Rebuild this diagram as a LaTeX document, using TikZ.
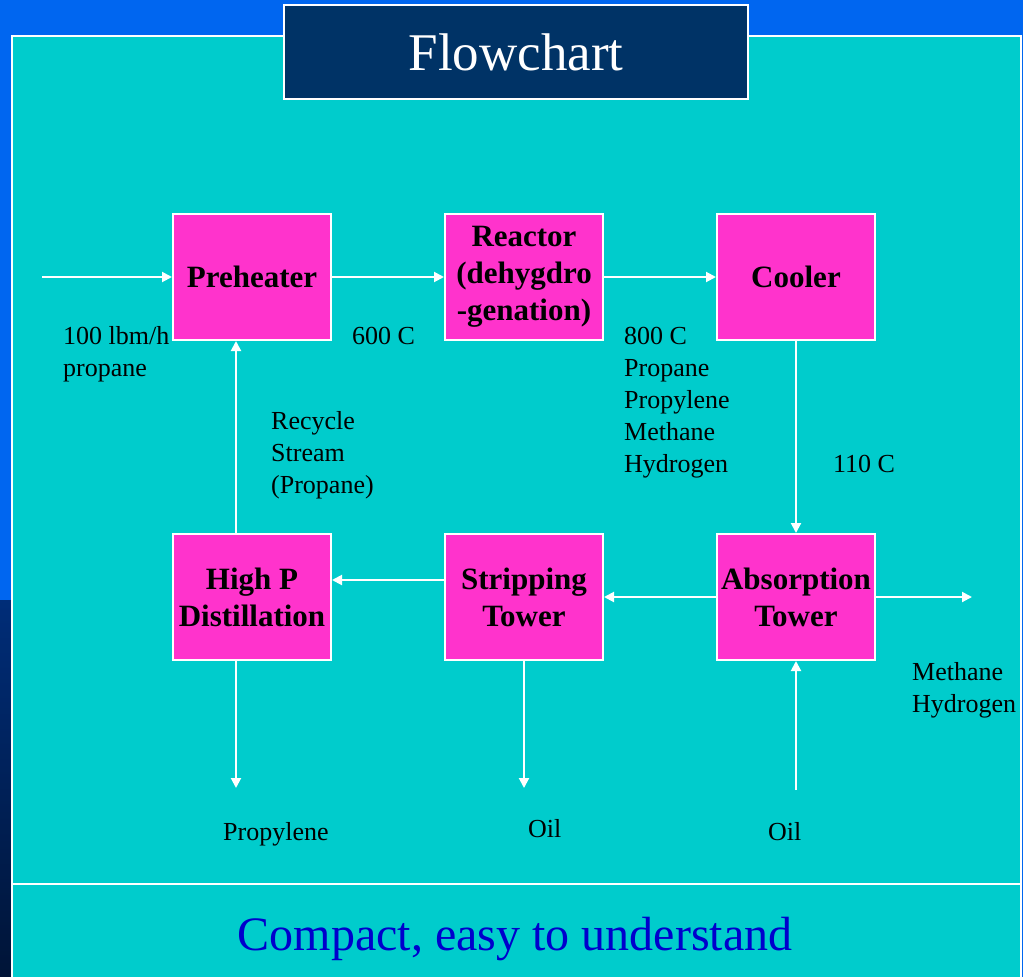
\documentclass[tikz,border=0pt]{standalone}
\usepackage{fontspec}
\setmainfont{Liberation Serif}
\usetikzlibrary{arrows.meta}

\definecolor{slideblue}{RGB}{0,102,240}
\definecolor{panelcyan}{RGB}{0,204,204}
\definecolor{titlenavy}{RGB}{0,51,102}
\definecolor{unitpink}{RGB}{255,51,204}
\definecolor{footblue}{RGB}{0,0,204}

\begin{document}
\begin{tikzpicture}[x=1pt, y=-1pt,
    unit/.style={draw=white, line width=2pt, fill=unitpink, minimum width=158pt, minimum height=126pt,
        align=center, inner sep=0pt, font=\bfseries\fontsize{31}{37}\selectfont},
    flow/.style={draw=white, line width=2pt, -{Triangle[length=10pt,width=10pt]}},
    note/.style={anchor=base west, align=left, inner sep=0pt, font=\fontsize{26}{32}\selectfont}]
    \useasboundingbox (0,0) rectangle (1023,977);
    %! --- Slide background ---
    \fill[slideblue] (0,0) rectangle (1023,977);
    \shade[top color={rgb,255:red,0;green,45;blue,120}, bottom color={rgb,255:red,0;green,20;blue,55}] (0,600) rectangle (12,977);
    \fill[panelcyan] (12,36) rectangle (1021,977);
    \draw[white, line width=2pt] (12,977) |- (1021,36) -- (1021,977);
    \draw[white, line width=2pt] (12,884) -- (1021,884);
    \node[draw=white, line width=2pt, fill=titlenavy, minimum width=464pt, minimum height=94pt,
        text=white, font=\fontsize{53}{60}\selectfont] (title) at (516,52) {Flowchart};

    %! --- Process units ---
    \node[unit] (pre) at (252,277) {Preheater};
    \node[unit] (rxn) at (524,277) {Reactor\\(dehygdro\\-genation)};
    \node[unit] (cool) at (796,277) {Cooler};
    \node[unit] (hpd) at (252,597) {High P\\Distillation};
    \node[unit] (strip) at (524,597) {Stripping\\Tower};
    \node[unit] (abs) at (796,597) {Absorption\\Tower};

    % Free stream ends
    \coordinate (feed) at (42,277);
    \coordinate (offgas) at (972,597);
    \coordinate (prodout) at (236,788);
    \coordinate (oilout) at (524,788);
    \coordinate (oilin) at (796,790);

    %! --- Streams ---
    \draw[flow] (feed) -- (pre);
    \draw[flow] (pre) -- (rxn);
    \draw[flow] (rxn) -- (cool);
    \draw[flow] (cool) -- (abs);
    \draw[flow] (abs) -- (strip);
    \draw[flow] ([yshift=17pt]strip.west) -- ([yshift=17pt]hpd.east);
    \draw[flow] (abs) -- (offgas);
    \draw[flow] (oilin) -- (abs);
    \draw[flow] (strip) -- (oilout);
    \draw[flow] ([xshift=-16pt]hpd.south) -- (prodout);
    % Recycle back to preheater
    \draw[flow] ([xshift=-16pt]hpd.north) -- ([xshift=-16pt]pre.south);

    %! --- Stream labels (placed at the baseline of their last line) ---
    \node[note] (feedlbl) at (63,376) {100 lbm/h\\propane};
    \node[note] (t600) at (352,344) {600 C};
    \node[note] (rxnout) at (624,472) {800 C\\Propane\\Propylene\\Methane\\Hydrogen};
    \node[note] (t110) at (833,472) {110 C};
    \node[note] (recyc) at (271,493) {Recycle\\Stream\\(Propane)};
    \node[note] (gaslbl) at (912,712) {Methane\\Hydrogen};
    \foreach \n/\x/\y/\t in {prodlbl/223/840/Propylene, oillbl/528/837/Oil, oilinlbl/768/840/Oil} {
        \node[note] (\n) at (\x,\y) {\t};
    }

    % Footer
    \node[anchor=base, inner sep=0pt, text=footblue, font=\fontsize{48}{56}\selectfont] (foot) at (515,950) {Compact, easy to understand};
\end{tikzpicture}
\end{document}
